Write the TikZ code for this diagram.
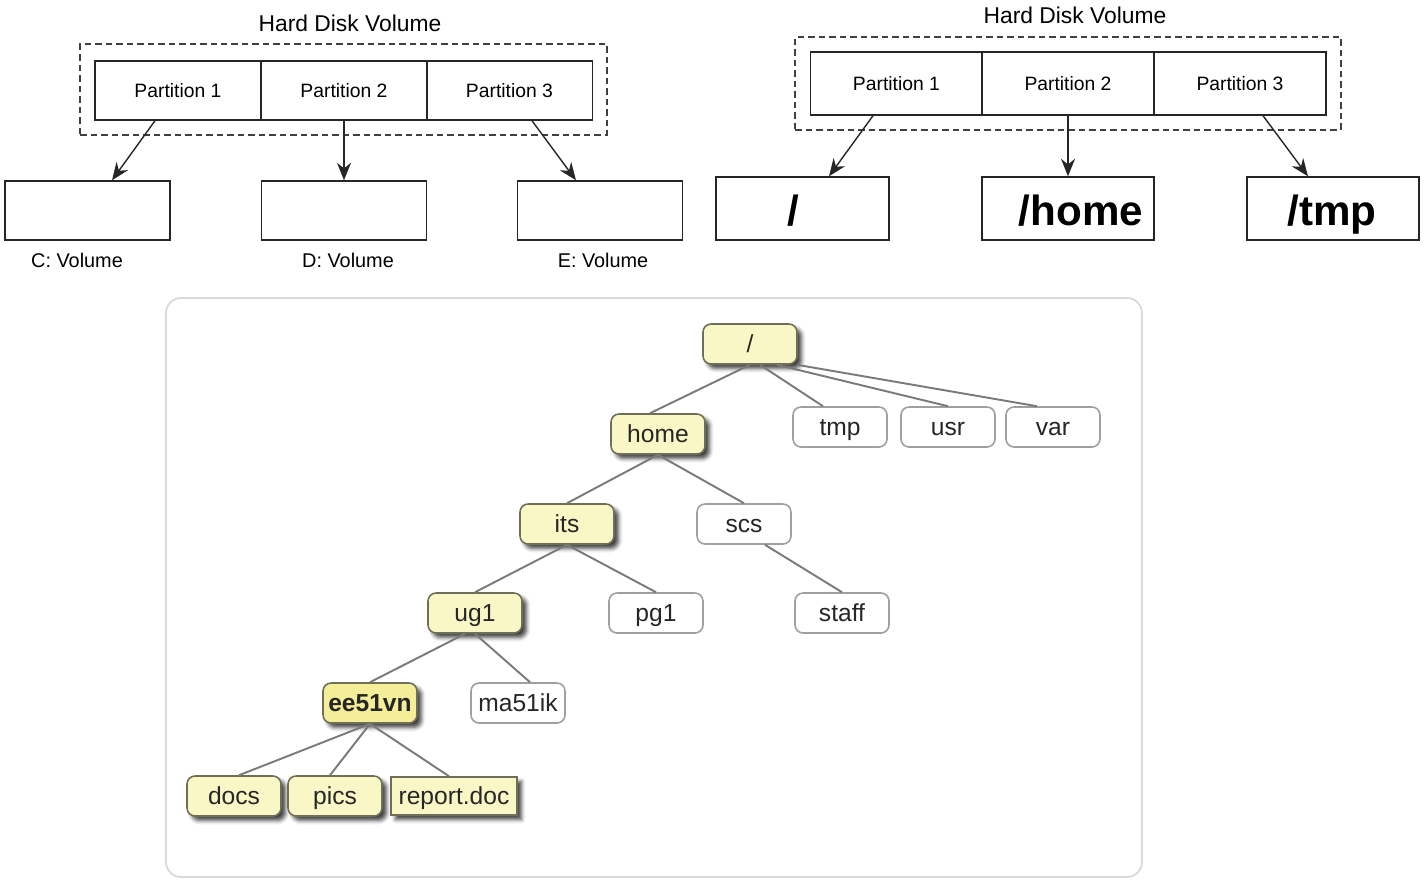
\documentclass[tikz,border=0pt]{standalone}
\usepackage{fontspec}
\setmainfont{Liberation Sans}
\usetikzlibrary{arrows.meta,shadows.blur}

\definecolor{dirfill}{HTML}{FAF7C6}
\definecolor{curfill}{HTML}{F5EE98}
\definecolor{dirline}{HTML}{6F6F58}
\definecolor{treeline}{HTML}{7A7A7A}

\begin{document}
\begin{tikzpicture}[
  x=0.02cm, y=-0.02cm,
  title/.style={font=\fontsize{13}{15}\selectfont, inner sep=0pt},
  hdvol/.style={draw=black!75, line width=0.9pt, dash pattern=on 0.13cm off 0.08cm},
  part/.style={draw=black!85, line width=0.8pt, inner sep=0pt,
               font=\fontsize{11}{13}\selectfont},
  vol/.style={draw=black!85, line width=0.8pt, inner sep=0pt},
  vlab/.style={font=\fontsize{11.3}{13}\selectfont, inner sep=0pt},
  mnt/.style={font=\fontsize{24}{28}\bfseries, inner sep=0pt,
              text height=17pt, text depth=5pt},
  arr/.style={-{Stealth[length=10pt, width=8pt]}, line width=0.8pt, black!85},
  panel/.style={draw=black!15, line width=1pt, rounded corners=0.3cm},
  dir/.style={draw=dirline, fill=dirfill, line width=0.9pt, rounded corners=0.16cm,
              minimum width=1.88cm, minimum height=0.8cm, inner sep=0pt,
              text height=12.5pt, text depth=2.5pt,
              font=\fontsize{14}{16}\selectfont, text=black!85,
              blur shadow={shadow xshift=0.09cm, shadow yshift=-0.09cm,
                           shadow blur radius=0.08cm, shadow opacity=75}},
  oth/.style={draw=gray!75, fill=white, line width=0.9pt, rounded corners=0.16cm,
              minimum width=1.88cm, minimum height=0.8cm, inner sep=0pt,
              text height=12.5pt, text depth=2.5pt,
              font=\fontsize{14}{16}\selectfont, text=black!85},
  link/.style={draw=treeline, line width=1.1pt}
]
  \useasboundingbox (0,0) rectangle (1424,880);

  %% --- Left : one disk, three drive letters ---
  \node[title] (tl) at (350,23) {Hard Disk Volume};
  \node[hdvol, minimum width=10.54cm, minimum height=1.82cm] (hl) at (343.5,89.5) {};
  \node[part, minimum width=3.32cm, minimum height=1.18cm] (lp1) at (178,90.5) {Partition 1};
  \node[part, minimum width=3.32cm, minimum height=1.18cm] (lp2) at (344,90.5) {Partition 2};
  \node[part, minimum width=3.32cm, minimum height=1.18cm] (lp3) at (509.5,90.5) {Partition 3};
  \node[vol, minimum width=3.3cm, minimum height=1.18cm] (cv) at (87.5,210.5) {};
  \node[vol, minimum width=3.3cm, minimum height=1.18cm] (dv) at (344,210.5) {};
  \node[vol, minimum width=3.3cm, minimum height=1.18cm] (ev) at (600,210.5) {};
  \node[vlab] (cl) at (77,260) {C: Volume};
  \node[vlab] (dl) at (348,260) {D: Volume};
  \node[vlab] (el) at (603,260) {E: Volume};
  \draw[arr] ([xshift=-0.46cm]lp1.south) -- ([xshift=0.49cm]cv.north);
  \draw[arr] (lp2.south) -- (dv.north);
  \draw[arr] ([xshift=0.45cm]lp3.south) -- ([xshift=-0.48cm]ev.north);

  %% --- Right : one disk, three mount points ---
  \node[title] (tr) at (1075,15) {Hard Disk Volume};
  \node[hdvol, minimum width=10.92cm, minimum height=1.86cm] (hr) at (1068,83.5) {};
  \node[part, minimum width=3.44cm, minimum height=1.26cm] (rp1) at (896.5,83.5) {Partition 1};
  \node[part, minimum width=3.44cm, minimum height=1.26cm] (rp2) at (1068,83.5) {Partition 2};
  \node[part, minimum width=3.44cm, minimum height=1.26cm] (rp3) at (1240,83.5) {Partition 3};
  \node[vol, minimum width=3.46cm, minimum height=1.26cm] (rv) at (802.5,208.5) {};
  \node[vol, minimum width=3.44cm, minimum height=1.26cm] (hv) at (1068,208.5) {};
  \node[vol, minimum width=3.44cm, minimum height=1.26cm] (tv) at (1333,208.5) {};
  \node[mnt] (rm) at (793,215) {/};
  \node[mnt] (hm) at (1081,215) {/home};
  \node[mnt] (tm) at (1332,215) {/tmp};
  \draw[arr] ([xshift=-0.47cm]rp1.south) -- ([xshift=0.53cm]rv.north);
  \draw[arr] (rp2.south) -- (hv.north);
  \draw[arr] ([xshift=0.46cm]rp3.south) -- ([xshift=-0.5cm]tv.north);

  %% --- Bottom : directory tree ---
  \draw[panel] (166,298) rectangle (1142,877);
  \node[dir] (root) at (750,344) {/};
  \node[dir] (home) at (658,434) {home};
  \node[oth] (tmp)  at (840,427) {tmp};
  \node[oth] (usr)  at (948,427) {usr};
  \node[oth] (var)  at (1053,427) {var};
  \node[dir] (its)  at (567,524) {its};
  \node[oth] (scs)  at (744,524) {scs};
  \node[dir] (ugo)  at (475,613) {ug1};
  \node[oth] (pgo)  at (656,613) {pg1};
  \node[oth] (staff) at (842,613) {staff};
  \node[dir, fill=curfill, font=\fontsize{14}{16}\bfseries] (ee) at (370,703) {ee51vn};
  \node[oth] (ma)   at (518,703) {ma51ik};
  \node[dir] (docs) at (234,796) {docs};
  \node[dir] (pics) at (335,796) {pics};
  \node[dir, rounded corners=0pt, minimum width=2.52cm, minimum height=0.76cm] (rep) at (454,796) {report.doc};

  \draw[link] (root.south) -- ([xshift=-0.16cm]home.north);
  \draw[link] ([xshift=0.2cm]root.south) -- ([xshift=-0.34cm]tmp.north);
  \draw[link] ([xshift=0.54cm]root.south) -- (usr.north);
  \draw[link] ([xshift=0.94cm]root.south) -- ([xshift=-0.32cm]var.north);
  \draw[link] (home.south) -- (its.north);
  \draw[link] (home.south) -- (scs.north);
  \draw[link] ([xshift=0.42cm]scs.south) -- (staff.north);
  \draw[link] (its.south) -- (ugo.north);
  \draw[link] (its.south) -- (pgo.north);
  \draw[link] ([xshift=-0.2cm]ugo.south) -- (ee.north);
  \draw[link] (ugo.south) -- ([xshift=0.24cm]ma.north);
  \draw[link] (ee.south) -- ([xshift=0.1cm]docs.north);
  \draw[link] (ee.south) -- ([xshift=-0.1cm]pics.north);
  \draw[link] (ee.south) -- ([xshift=-0.1cm]rep.north);
\end{tikzpicture}
\end{document}
